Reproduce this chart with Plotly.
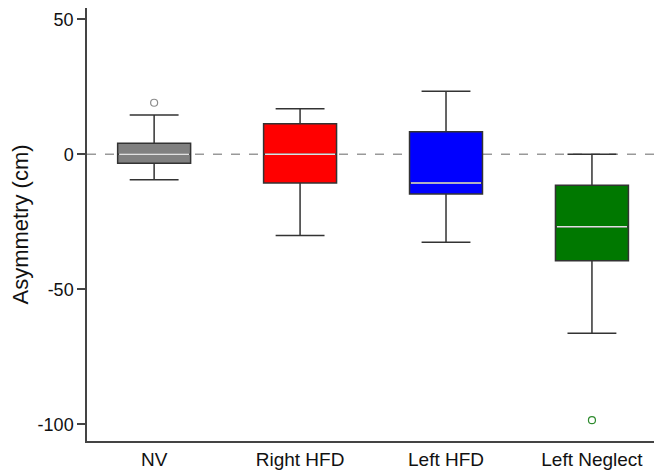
import plotly.graph_objects as go

categories = ["NV", "Right HFD", "Left HFD", "Left Neglect"]
q1 = [-3.3, -10.6, -14.7, -39.4]
median = [0.0, 0.0, -10.6, -26.8]
q3 = [4.1, 11.3, 8.4, -11.5]
lower_whisker = [-9.4, -30.1, -32.6, -66.3]
upper_whisker = [14.6, 16.9, 23.4, 0.0]
outlier_cat = [0, 3]
outlier_val = [19.1, -98.5]
y_tick_vals = [-100, -50, 0, 50]
y_tick_text = ["-100", "-50", "0", "50"]
fill_colors = ["#808080", "#ff0000", "#0000ff", "#007800"]
outlier_colors = ["#8c8c8c", "#2e8b2e"]

box_width = 0.5
fig = go.Figure()

for i, c in enumerate(categories):
    fig.add_trace(go.Box(
        x=[i], q1=[q1[i]], median=[median[i]], q3=[q3[i]],
        lowerfence=[lower_whisker[i]], upperfence=[upper_whisker[i]],
        width=box_width, whiskerwidth=0.67,
        fillcolor=fill_colors[i],
        line=dict(color="#333333", width=1.5),
        showlegend=False, hoverinfo="skip",
    ))
    fig.add_trace(go.Scatter(
        x=[i - box_width / 2 + 0.01, i + box_width / 2 - 0.01],
        y=[median[i], median[i]],
        mode="lines", line=dict(color="#e0e0e0", width=1.5),
        showlegend=False, hoverinfo="skip",
    ))

fig.add_trace(go.Scatter(
    x=outlier_cat, y=outlier_val, mode="markers",
    marker=dict(symbol="circle-open", size=7, color=outlier_colors, line=dict(width=1.2)),
    showlegend=False, hoverinfo="skip",
))

fig.add_shape(type="line", xref="paper", x0=0, x1=1, yref="y", y0=0, y1=0,
              line=dict(color="#999999", width=1.5, dash="dash"), layer="below")

fig.update_layout(
    width=654, height=466,
    margin=dict(l=79, r=0, t=0, b=33),
    plot_bgcolor="white", paper_bgcolor="white",
    font=dict(family="Liberation Sans, Arial", color="#111111"),
    xaxis=dict(
        range=[-0.46, 3.48], tickvals=list(range(len(categories))), ticktext=categories,
        showline=True, linecolor="#444444", linewidth=1.5, ticks="",
        showgrid=False, zeroline=False, tickfont=dict(size=19), automargin=False,
    ),
    yaxis=dict(
        range=[-106.2, 54.2], tickvals=y_tick_vals, ticktext=y_tick_text,
        showline=True, linecolor="#444444", linewidth=1.5,
        ticks="outside", ticklen=8, tickcolor="#444444", tickwidth=1.5,
        showgrid=False, zeroline=False, tickfont=dict(size=18), automargin=False,
        title=dict(text="Asymmetry (cm)", font=dict(size=22), standoff=13),
    ),
)

fig.write_html("out.html")
